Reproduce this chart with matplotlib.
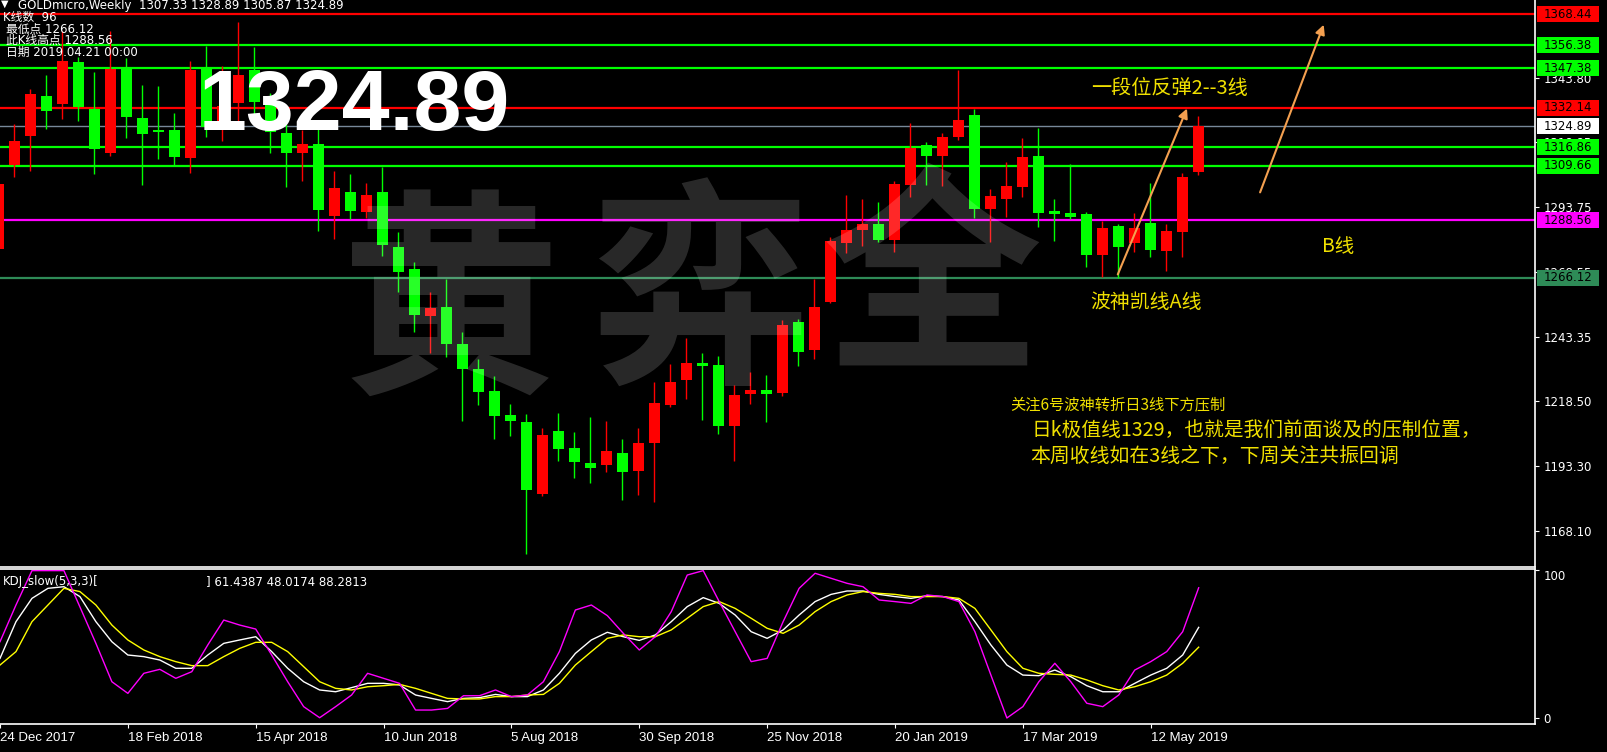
import matplotlib
matplotlib.use('Agg')
import matplotlib.pyplot as plt
from matplotlib.patches import Rectangle
from matplotlib.transforms import blended_transform_factory

# weekly bars, first bar is the week of 24 Dec 2017
opens = [1277.4, 1309.9, 1321.3, 1336.6, 1333.7, 1349.7, 1331.6, 1314.7, 1347.1, 1328.0,
         1323.6, 1323.5, 1312.7, 1347.4, 1323.5, 1334.1, 1346.7, 1333.8, 1322.2, 1314.7,
         1318.1, 1290.3, 1299.5, 1291.8, 1299.5, 1278.1, 1269.6, 1251.5, 1254.9, 1240.6,
         1230.9, 1222.3, 1213.0, 1210.3, 1182.5, 1206.8, 1200.2, 1194.4, 1193.6, 1198.1,
         1191.4, 1202.3, 1217.0, 1226.7, 1233.2, 1232.4, 1208.9, 1221.3, 1222.7, 1221.7,
         1249.0, 1238.3, 1256.9, 1279.8, 1284.7, 1287.0, 1280.8, 1302.2, 1317.7, 1313.5,
         1320.9, 1329.3, 1293.0, 1296.9, 1301.5, 1313.4, 1292.1, 1291.3, 1290.9, 1275.1,
         1286.3, 1279.8, 1287.4, 1276.7, 1284.1, 1307.33]
highs = [1304.0, 1325.8, 1339.4, 1344.8, 1362.0, 1351.9, 1346.0, 1361.8, 1351.4, 1340.9,
         1340.5, 1330.1, 1350.2, 1356.2, 1348.3, 1365.3, 1355.6, 1338.0, 1325.8, 1323.4,
         1324.3, 1307.6, 1306.4, 1303.0, 1309.3, 1284.0, 1272.2, 1260.7, 1265.9, 1245.2,
         1234.7, 1228.2, 1217.3, 1213.4, 1208.0, 1213.8, 1206.4, 1212.3, 1210.7, 1203.7,
         1208.0, 1225.8, 1232.8, 1242.8, 1237.0, 1235.9, 1224.6, 1229.7, 1228.5, 1249.8,
         1250.2, 1265.7, 1282.0, 1298.3, 1296.7, 1295.6, 1303.7, 1326.2, 1318.8, 1322.3,
         1346.7, 1331.6, 1300.6, 1311.1, 1320.4, 1324.2, 1296.7, 1310.3, 1291.8, 1288.2,
         1287.0, 1291.3, 1302.9, 1287.2, 1306.8, 1328.89]
lows = [1275.0, 1305.4, 1307.7, 1323.9, 1327.7, 1327.1, 1306.5, 1313.4, 1320.5, 1302.3,
        1312.4, 1309.9, 1306.9, 1320.9, 1319.3, 1326.3, 1328.0, 1314.7, 1301.2, 1303.8,
        1284.5, 1281.4, 1289.1, 1289.5, 1274.8, 1260.8, 1245.3, 1237.2, 1235.6, 1210.8,
        1216.9, 1203.7, 1205.0, 1159.2, 1181.8, 1195.2, 1188.6, 1186.7, 1191.0, 1180.0,
        1182.0, 1179.3, 1216.2, 1219.2, 1211.2, 1205.8, 1195.3, 1217.4, 1210.4, 1220.5,
        1232.1, 1234.8, 1256.5, 1275.9, 1278.6, 1280.1, 1276.2, 1297.4, 1302.2, 1301.8,
        1319.6, 1289.5, 1280.2, 1289.9, 1297.6, 1286.0, 1280.6, 1289.0, 1270.5, 1266.5,
        1266.12, 1276.3, 1274.4, 1268.9, 1274.4, 1305.87]
closes = [1302.5, 1319.2, 1337.4, 1331.0, 1350.2, 1332.3, 1316.0, 1347.0, 1328.6, 1322.0,
          1322.8, 1313.1, 1346.7, 1324.8, 1332.8, 1344.8, 1334.5, 1322.8, 1314.4, 1318.0,
          1292.5, 1301.0, 1292.2, 1298.3, 1278.9, 1268.6, 1251.8, 1254.5, 1240.6, 1230.9,
          1221.9, 1212.6, 1210.5, 1184.1, 1205.3, 1199.9, 1194.8, 1192.5, 1199.0, 1191.0,
          1202.2, 1217.7, 1225.8, 1233.2, 1232.1, 1208.9, 1220.8, 1222.7, 1221.3, 1247.9,
          1237.6, 1254.9, 1280.4, 1284.7, 1287.0, 1280.8, 1302.5, 1316.6, 1313.5, 1320.8,
          1327.3, 1293.0, 1297.9, 1301.8, 1313.0, 1291.4, 1291.0, 1289.9, 1275.1, 1285.5,
          1278.2, 1285.5, 1277.1, 1284.3, 1305.3, 1324.89]

# KDJ_slow(5,3,3)
kdj_k = [40.4, 65.3, 81.1, 87.9, 89.0, 82.3, 65.3, 51.7, 42.7, 41.6, 39.3, 33.7, 33.7, 42.7,
         50.6, 52.9, 55.1, 45.0, 33.7, 24.6, 19.0, 17.8, 20.6, 23.5, 23.5, 22.4, 15.6, 13.3,
         11.1, 13.3, 13.8, 16.0, 14.5, 14.5, 19.0, 30.3, 43.8, 52.9, 58.1, 55.1, 52.6, 56.3,
         65.3, 75.5, 81.6, 77.7, 69.8, 58.5, 54.0, 59.7, 69.8, 78.9, 83.8, 86.1, 86.1, 83.8,
         82.3, 81.1, 82.9, 82.3, 80.0, 65.3, 49.5, 35.9, 29.1, 28.7, 32.5, 28.0, 21.9, 17.8,
         17.8, 23.5, 29.1, 33.7, 42.7, 61.4387]
kdj_d = [35.9, 45.0, 65.3, 76.6, 87.9, 85.7, 76.6, 63.0, 52.9, 46.1, 41.6, 38.2, 35.5, 35.5,
         41.6, 47.2, 51.3, 51.3, 45.0, 34.8, 24.6, 20.1, 19.0, 21.2, 21.9, 22.8, 20.1, 16.7,
         13.3, 12.9, 12.9, 14.5, 14.5, 15.6, 16.0, 23.5, 35.9, 45.0, 54.0, 56.3, 55.1, 55.1,
         59.7, 67.6, 75.5, 78.9, 74.3, 67.6, 60.8, 57.4, 63.0, 72.1, 78.9, 83.4, 85.7, 84.5,
         83.8, 82.3, 82.3, 82.3, 81.1, 74.3, 59.7, 45.0, 33.7, 30.3, 29.6, 29.1, 25.8, 21.9,
         19.0, 21.2, 24.6, 29.1, 37.1, 48.0174]
kdj_j = [51.7, 76.6, 99.9, 99.9, 99.9, 75.3, 50.6, 24.6, 16.7, 30.3, 33.0, 26.9, 31.4, 49.5,
         66.4, 63.0, 60.3, 42.7, 24.6, 7.7, 0.2, 7.7, 15.6, 30.3, 26.9, 23.5, 5.4, 5.4,
         6.5, 15.1, 15.1, 19.0, 14.5, 15.6, 24.6, 45.0, 73.2, 76.6, 69.4, 57.4, 46.1, 55.1,
         72.1, 96.9, 99.9, 78.9, 58.5, 38.2, 40.4, 65.3, 87.9, 98.1, 94.7, 91.3, 89.0, 80.0,
         78.9, 77.7, 83.4, 82.3, 78.9, 58.5, 29.1, 0.0, 7.7, 24.6, 37.1, 24.6, 10.0, 7.7,
         15.6, 32.5, 38.2, 45.0, 58.5, 88.2813]

date_labels = ['24 Dec 2017', '18 Feb 2018', '15 Apr 2018', '10 Jun 2018', '5 Aug 2018',
               '30 Sep 2018', '25 Nov 2018', '20 Jan 2019', '17 Mar 2019', '12 May 2019']
date_step = 8

level_prices = [1368.44, 1356.38, 1347.38, 1332.14, 1324.89, 1316.86, 1309.66, 1288.56, 1266.12]
level_colors = ['#ff0000', '#00ff00', '#00ff00', '#ff0000', '#778899', '#00ff00', '#00ff00',
                '#ff00ff', '#2e8b57']
label_colors = ['#ff0000', '#00ff00', '#00ff00', '#ff0000', '#ffffff', '#00ff00', '#00ff00',
                '#ff00ff', '#2e8b57']
price_ticks = [1343.80, 1318.85, 1293.75, 1268.55, 1243.35, 1218.50, 1193.30, 1168.10]

UP = '#ff0000'
DOWN = '#00ff00'
W, H = 1607, 752

plt.rcParams['font.family'] = ['DejaVu Sans', 'Noto Sans CJK SC']
CJK = ['Noto Sans CJK SC', 'DejaVu Sans']
NOTE = '#f0e000'


def px(x, y):
    """Pixel position (from top left) to figure fraction."""
    return x / W, 1 - y / H


def draw_candles(ax):
    for i in range(len(opens)):
        o, h, l, c = opens[i], highs[i], lows[i], closes[i]
        col = UP if c >= o else DOWN
        ax.vlines(i, l, h, color=col, lw=1.0, zorder=3)
        ax.bar(i, max(abs(c - o), 0.7), bottom=min(o, c), width=0.69,
               color=col, edgecolor='none', zorder=4)


def draw_levels(ax):
    tr = blended_transform_factory(ax.transAxes, ax.transData)
    for p, lc, bc in zip(level_prices, level_colors, label_colors):
        lw = 1.0 if lc == '#778899' else 1.6
        ax.axhline(p, color=lc, lw=lw, zorder=2)
        ax.add_patch(Rectangle((1.0013, p - 3.1), 0.0404, 6.2, transform=tr,
                               facecolor=bc, edgecolor='none', clip_on=False, zorder=10))
        ax.text(1.0215, p, f'{p:.2f}', transform=tr, ha='center', va='center',
                fontsize=8.5, color='black', clip_on=False, zorder=11)


fig = plt.figure(figsize=(W / 100, H / 100), dpi=100, facecolor='black')
ax = fig.add_axes([0, (H - 567.3) / H, 1535 / W, 567.3 / H], facecolor='black')
ax2 = fig.add_axes([0, (H - 723.7) / H, 1535 / W, 154.4 / H], facecolor='black')

xlim = (1.7 / 16, 1536.7 / 16)

# price panel
draw_candles(ax)
draw_levels(ax)
ax.set_xlim(*xlim)
ax.set_ylim(1153.98, 1373.87)
ax.set_xticks([])
ax.yaxis.tick_right()
ax.set_yticks(price_ticks)
ax.set_yticklabels([f'{v:.2f}' for v in price_ticks])
ax.tick_params(axis='y', colors='white', length=3, pad=3, labelsize=8.5)
for s in ['left', 'top']:
    ax.spines[s].set_visible(False)
for s in ['right', 'bottom']:
    ax.spines[s].set_color('white')
    ax.spines[s].set_linewidth(1.2)

# arrows and notes
arrow = dict(arrowstyle='-|>', color='#f4a050', lw=1.5, mutation_scale=14)
ax.annotate('', xy=(74.36, 1332.8), xytext=(69.9, 1266.5), arrowprops=arrow, zorder=6)
ax.annotate('', xy=(82.9, 1365.3), xytext=(78.8, 1298.3), arrowprops=arrow, zorder=6)

fig.text(*px(1091, 89), '一段位反弹2--3线', color=NOTE, fontsize=14.5, va='center', family=CJK)
fig.text(*px(1322, 246), 'B线', color=NOTE, fontsize=14, va='center', family=CJK)
fig.text(*px(1090, 302), '波神凯线A线', color=NOTE, fontsize=14.3, va='center', family=CJK)
fig.text(*px(1010, 405), '关注6号波神转折日3线下方压制', color=NOTE, fontsize=11,
         va='center', family=CJK)
fig.text(*px(1032, 430), '日k极值线1329，也就是我们前面谈及的压制位置，', color=NOTE,
         fontsize=14.2, va='center', family=CJK)
fig.text(*px(1030, 456), '本周收线如在3线之下，下周关注共振回调', color=NOTE,
         fontsize=14.3, va='center', family=CJK)

# header info
fig.text(*px(1, 4), '▼', color='white', fontsize=7, va='center')
fig.text(*px(18, 5), 'GOLDmicro,Weekly  1307.33 1328.89 1305.87 1324.89', color='white',
         fontsize=8.5, va='center')
fig.text(*px(3, 17), 'K线数  96', color='white', fontsize=8.5, va='center')
fig.text(*px(6, 29), '最低点 1266.12', color='white', fontsize=8.5, va='center')
fig.text(*px(6, 40), '此K线高点 1288.56', color='white', fontsize=8.5, va='center')
fig.text(*px(6, 52), '日期 2019.04.21 00:00', color='white', fontsize=8.5, va='center')

fig.text(*px(199, 108), '1324.89', color='white', fontsize=62, va='center',
         family='Liberation Sans', fontweight='bold')

# watermark
for ch, (cx, cy) in zip('黄弈全', [(450, 312), (700, 302), (932, 286)]):
    fig.text(*px(cx, cy), ch, color='white', alpha=0.16, fontsize=158, ha='center',
             va='center', family=CJK, fontweight='bold', zorder=20)

# KDJ panel
xs = range(len(kdj_k))
ax2.plot(xs, kdj_k, color='white', lw=1.0)
ax2.plot(xs, kdj_d, color='#ffff00', lw=1.0)
ax2.plot(xs, kdj_j, color='#ff00ff', lw=1.0)
ax2.set_xlim(*xlim)
ax2.set_ylim(-3.86, 100.8)
ax2.yaxis.tick_right()
ax2.set_yticks([100, 0])
ax2.set_yticklabels(['100', '0'])
ax2.get_yticklabels()[0].set_va('top')
ax2.tick_params(axis='y', colors='white', length=3, pad=3, labelsize=8.5)
ticks = [i * date_step for i in range(len(date_labels))]
ax2.set_xticks(ticks)
ax2.set_xticklabels(date_labels, ha='left', family='Liberation Sans')
ax2.tick_params(axis='x', colors='white', length=3, pad=3, labelsize=9.5)
ax2.spines['left'].set_visible(False)
for s in ['right', 'bottom', 'top']:
    ax2.spines[s].set_color('white')
    ax2.spines[s].set_linewidth(1.2)
fig.text(*px(3, 582), 'KDJ_slow(5,3,3)[', color='white', fontsize=8.5, va='center')
fig.text(*px(206, 582), '] 61.4387 48.0174 88.2813', color='white', fontsize=8.5, va='center')

fig.savefig('out.png', dpi=100, facecolor='black')
